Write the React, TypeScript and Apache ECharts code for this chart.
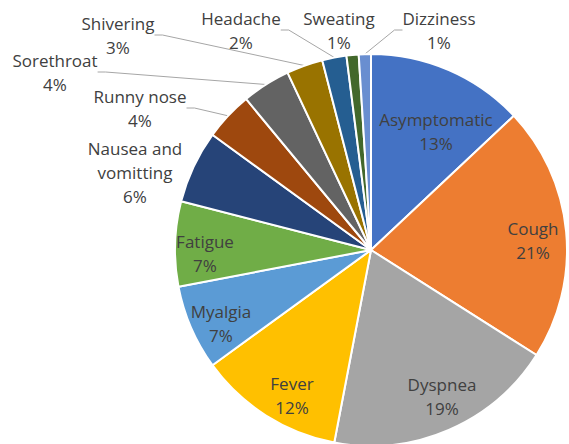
import React, { useEffect, useRef } from "react";
import * as echarts from "echarts";

const categories = [
  "Asymptomatic",
  "Cough",
  "Dyspnea",
  "Fever",
  "Myalgia",
  "Fatigue",
  "Nausea and vomitting",
  "Runny nose",
  "Sorethroat",
  "Shivering",
  "Headache",
  "Sweating",
  "Dizziness",
];
const values = [13, 21, 19, 12, 7, 7, 6, 4, 4, 3, 2, 1, 1];

const colors = [
  "#4472C4",
  "#ED7D31",
  "#A5A5A5",
  "#FFC000",
  "#5B9BD5",
  "#70AD47",
  "#264478",
  "#9E480E",
  "#636363",
  "#997300",
  "#255E91",
  "#43682B",
  "#698ED0",
];

// label layout (style only)
const labelText = [
  "Asymptomatic",
  "Cough",
  "Dyspnea",
  "Fever",
  "Myalgia",
  "Fatigue",
  "Nausea and\nvomitting",
  "Runny nose",
  "Sorethroat",
  "Shivering",
  "Headache",
  "Sweating",
  "Dizziness",
];
const labelCenters = [
  [436, 131],
  [533, 240],
  [442, 396],
  [292, 395],
  [221, 323],
  [205, 253],
  [135, 172],
  [140, 108],
  [55, 72],
  [118, 35],
  [241, 30],
  [339, 30],
  [439, 30],
];
const insideLabel = [true, true, true, true, true, true, false, false, false, false, false, false, false];
const showLeader = [false, false, false, false, false, false, false, true, true, true, true, false, true];

export default function App() {
  const ref = useRef<HTMLDivElement>(null);
  useEffect(() => {
    if (!ref.current) return;
    const chart = echarts.init(ref.current, undefined, { renderer: "svg" });
    const total = values.reduce((a, b) => a + b, 0);
    const data = categories.map((name, i) => ({
      name,
      value: values[i],
      itemStyle: { color: colors[i] },
      label: { position: insideLabel[i] ? "inside" : "outside" },
      labelLine: { show: showLeader[i] },
    }));
    chart.setOption({
      animation: false,
      backgroundColor: "#ffffff",
      series: [
        {
          type: "pie",
          center: [371, 250],
          radius: 196,
          startAngle: 90,
          clockwise: true,
          avoidLabelOverlap: false,
          itemStyle: { borderColor: "#ffffff", borderWidth: 2 },
          label: {
            show: true,
            fontFamily: "Open Sans",
            fontSize: 17,
            lineHeight: 24,
            color: "#404040",
            formatter: (p: any) =>
              `${labelText[p.dataIndex]}\n${Math.round((values[p.dataIndex] / total) * 100)}%`,
          },
          labelLine: {
            show: true,
            length: 10,
            length2: 8,
            lineStyle: { color: "#a6a6a6", width: 1 },
          },
          labelLayout: (params: any) => {
            const c = labelCenters[params.dataIndex];
            return { x: c[0], y: c[1], align: "center", verticalAlign: "middle" };
          },
          data,
        },
      ],
    });
    return () => chart.dispose();
  }, []);
  return (
    <div
      ref={ref}
      style={{ position: "absolute", left: 0, top: 0, width: 569, height: 444 }}
    />
  );
}
